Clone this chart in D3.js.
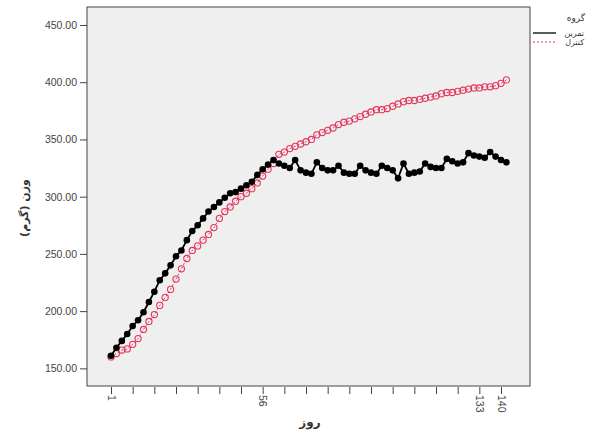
<!DOCTYPE html>
<html><head><meta charset="utf-8">
<script src="https://cdn.jsdelivr.net/npm/d3@7"></script>
<style>body{margin:0;background:#fff}svg{display:block}</style>
</head><body>
<svg id="c" width="592" height="432"></svg>
<script>
const exercise = [161,168,174,180,187,192,199,208,217,227,233,240,248,253,262,270,275,281,287,291,295,299,303,304,307,310,313,319,324,328,332,
329,327,325,332,323,321,320,330,325,323,323,327,321,320,320,327,323,321,320,327,325,323,316,329,320,321,322,329,326,325,325,333,331,329,330,338,336,335,334,339,335,332,330];
const control = [160,163,166,167,171,176,184,191,197,205,212,219,228,237,246,253,257,262,267,273,281,287,291,296,300,303,307,312,318,324,329,
337,339,342,344,346,348,350,354,356,358,360,363,365,366,368,370,372,374,376,376,377,379,381,383,384,384,385,386,387,388,390,391,391,392,393,394,395,395,396,396,397,399,402];
const xTickLabels = ["1","","","","","","","56","","","","","","","","","","133","140"];
const yTicks = [150,200,250,300,350,400,450];
const seriesNames = ["تمرین","کنترل"];
const legendTitle = "گروه";
const xTitle = "روز";
const yTitle = "وزن (گرم)";

const svg = d3.select("#c");
const L=87,R=530,T=7,B=386;
const n = exercise.length;
const x = d3.scalePoint().domain(d3.range(n)).range([111, 111 + (n-1)*(390/72)]);
const y = d3.scaleLinear().domain([134.6, 465.7]).range([B, T]);

svg.append("rect").attr("x",L).attr("y",T).attr("width",R-L).attr("height",B-T)
  .attr("fill","#efefef").attr("stroke","#444").attr("stroke-width",1);

const ya = svg.append("g").attr("transform",`translate(${L},0)`)
  .call(d3.axisLeft(y).tickValues(yTicks).tickFormat(d3.format(".2f")).tickSize(7).tickPadding(3));
ya.select(".domain").remove();
ya.selectAll("line").attr("stroke","#444");
ya.selectAll("text").attr("font-family","Liberation Sans, Arial").attr("font-size",10.5).attr("fill","#444");

const tickIdx = d3.range(0, n, 4).slice(0, xTickLabels.length);
const xa = svg.append("g").attr("transform",`translate(0,${B})`)
  .call(d3.axisBottom(x).tickValues(tickIdx).tickFormat((d,i)=>xTickLabels[i]).tickSizeInner(7).tickSizeOuter(0).tickPadding(2));
xa.select(".domain").remove();
xa.selectAll("line").attr("stroke","#444").attr("transform","translate(0,1)");
xa.selectAll("text").attr("font-family","Liberation Sans, Arial").attr("font-size",10.5).attr("fill","#444")
  .attr("transform","rotate(90)").attr("text-anchor","start").attr("dy","0.35em").attr("y",0).attr("x",9);

const line = d3.line().x((d,i)=>x(i)).y(d=>y(d));
const red = "#e6345a";
svg.append("path").datum(control).attr("d",line).attr("fill","none").attr("stroke",red).attr("stroke-width",1).attr("stroke-dasharray","2,2");
svg.append("g").selectAll("circle").data(control).join("circle")
  .attr("cx",(d,i)=>x(i)).attr("cy",d=>y(d)).attr("r",3.1).attr("fill","none").attr("stroke",red).attr("stroke-width",1.1);
svg.append("path").datum(exercise).attr("d",line).attr("fill","none").attr("stroke","#000").attr("stroke-width",1.8);
svg.append("g").selectAll("circle").data(exercise).join("circle")
  .attr("cx",(d,i)=>x(i)).attr("cy",d=>y(d)).attr("r",3.3).attr("fill","#000");

const fa = "DejaVu Sans, Noto Sans, sans-serif";
svg.append("text").attr("x",310).attr("y",426).attr("text-anchor","middle").attr("direction","rtl")
  .attr("font-family",fa).attr("font-weight","bold").attr("font-size",12).attr("fill","#333").text(xTitle);
svg.append("text").attr("transform","translate(28,208) rotate(-90)").attr("text-anchor","middle").attr("direction","rtl")
  .attr("font-family",fa).attr("font-weight","bold").attr("font-size",11).attr("fill","#333").text(yTitle);

const lg = svg.append("g");
lg.append("text").attr("x",585).attr("y",21).attr("text-anchor","end").attr("font-family",fa).attr("font-size",9).attr("fill","#333").text(legendTitle);
const styles = [{c:"#000",d:null,w:1.3},{c:red,d:"2,2",w:1}];
seriesNames.forEach((s,i)=>{
  const yy = 33 + i*9;
  lg.append("line").attr("x1",533).attr("x2",556).attr("y1",yy).attr("y2",yy)
    .attr("stroke",styles[i].c).attr("stroke-width",styles[i].w).attr("stroke-dasharray",styles[i].d);
  lg.append("text").attr("x",584).attr("y",yy+3).attr("text-anchor","end").attr("font-family",fa).attr("font-size",8).attr("fill","#333").text(s);
});
</script>
</body></html>
